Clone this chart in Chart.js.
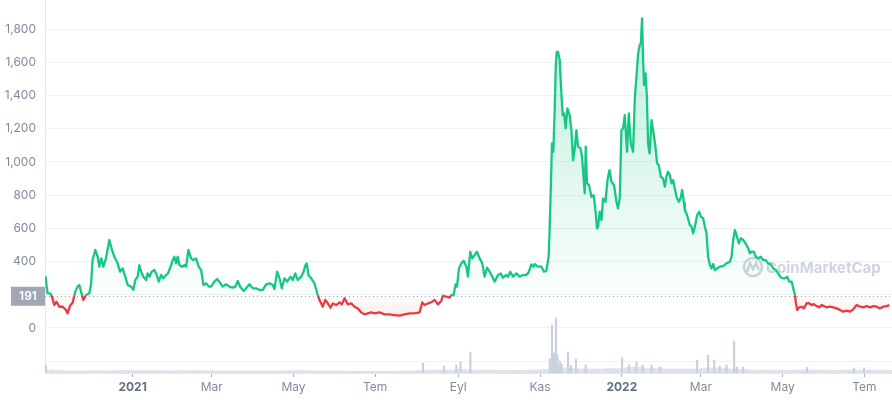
<!DOCTYPE html>
<html>
<head>
<meta charset="utf-8">
<script src="https://cdn.jsdelivr.net/npm/chart.js"></script>
<style>
html, body { margin: 0; padding: 0; background: #fff; }
#wrap { width: 892px; height: 400px; position: relative; }
</style>
</head>
<body>
<div id="wrap"><canvas id="priceChart"></canvas></div>
<script>
// x values are days counted from 1 Jan 2021
const tickDays = [0, 59, 120, 181, 243, 304, 365, 424, 485, 546];
const tickLabels = ['2021', 'Mar', 'May', 'Tem', 'Eyl', 'Kas', '2022', 'Mar', 'May', 'Tem'];
const yTicks = [-200, 0, 200, 400, 600, 800, 1000, 1200, 1400, 1600, 1800];
const baseline = 191;

const priceDays = [
  -65, -63.5, -61.5, -60.2, -58.5, -56.8, -54.7, -52.3, -49.7, -48.5, -46.7, -44.8, -42.8, -41.1, -39.8, -38.5,
  -36.8, -34.8, -32.3, -31.1, -29.9, -27.9, -26.1, -24.9, -23.4, -21.9, -19.9, -17.4, -15.4, -13.7, -11.2, -9.4,
  -7.5, -5.5, -3.7, -1.2, 0.5, 2, 3.7, 5, 6.3, 8, 10, 11.2, 12.5, 14.2, 16.2, 17.9, 19.4, 21.2, 22.9, 24.9, 26.4,
  28.7, 29.9, 31.1, 32.4, 33.6, 34.9, 36.9, 38.8, 39.9, 41.6, 43.6, 45.3, 47.3, 49.3, 51.1, 52.8, 54.8, 56.8,
  58.5, 61, 63, 64.7, 67.2, 69.7, 72.2, 74.7, 76.7, 78.4, 80.2, 82.9, 84.7, 87.2, 89.6, 92.2, 94.6, 97.1, 99.6,
  102.1, 104.6, 105.8, 107.8, 109.6, 111.3, 113.3, 115.3, 117.8, 119.5, 121.3, 123.2, 125.8, 127.5, 129, 129.9,
  131.2, 133.2, 135.7, 137.7, 139.4, 141.9, 143.7, 145.6, 147.6, 149.4, 151.9, 154.4, 156.1, 158.1, 160.6, 163.1,
  165.6, 168, 170.6, 173, 175.5, 178, 180.5, 184.2, 188, 191.7, 195.4, 199.2, 202.9, 206.7, 210.4, 214.1, 216.1,
  217.8, 220.3, 222.8, 225.3, 227.8, 230.3, 231.5, 234, 236.5, 237.8, 239.5, 241, 242, 243.5, 245.2, 247, 249,
  250.2, 251.9, 253.4, 255.2, 256.9, 258.9, 260.9, 262.6, 264.4, 266.4, 268.4, 270.1, 272.6, 274.6, 276.3, 278.8,
  280, 281.8, 283.8, 286.3, 288.8, 291.2, 293.8, 295.7, 297.5, 299.2, 300, 302.4, 305, 306.9, 308.7, 310.4, 311.2,
  311.9, 312.9, 313.9, 314.9, 315.7, 316.4, 317.4, 318.7, 319.9, 320.9, 321.9, 323.1, 324.4, 326.1, 327.4, 328.6,
  329.9, 331.1, 332.3, 334.1, 335.3, 336.8, 337.3, 338.1, 339, 340.5, 342.3, 344, 345.3, 346.5, 347.3, 348.5,
  349.8, 351, 352.8, 354.3, 355.8, 357.3, 359.2, 361, 362.2, 363.5, 364.7, 366, 367.2, 367.9, 368.9, 370.2, 371.7,
  373.4, 374.7, 375.9, 377.2, 378.4, 379.2, 380.1, 380.9, 381.6, 382.7, 383.7, 384.6, 385.7, 387.2, 388.3, 390.1,
  391.3, 392.6, 394.1, 395.8, 397.1, 398.3, 399.5, 400.8, 402.1, 403.3, 404.5, 405.8, 407.5, 408.8, 410, 411.5,
  412, 413.7, 415.7, 417, 418.2, 419.5, 421.2, 422.7, 424, 425.7, 427, 428.2, 429.4, 430.7, 431.9, 433.2, 434.4,
  436.2, 438.1, 440.6, 443.1, 445.6, 446.9, 448.1, 449.4, 450.6, 452.3, 453.8, 455.6, 457.3, 459.3, 460.6, 461.8,
  463.5, 465, 466.8, 468.6, 470.5, 472.5, 474.2, 476, 478, 480, 481.7, 483.5, 485, 486.7, 488.4, 489.9, 491.7,
  492.9, 494.2, 494.9, 495.9, 497.4, 499.2, 500.9, 502.9, 504.8, 506.6, 508.3, 510.3, 512.3, 514.1, 515.8, 517.8,
  520.3, 522.8, 525.3, 527.8, 530.2, 532.8, 535.2, 537.7, 540.2, 542.7, 545.2, 547.7, 550.2, 552.7, 555.2, 557.6,
  560.1, 562.6, 564.6
];
const prices = [
  310, 209, 209, 189, 138, 158, 128, 128, 108, 88, 134, 152, 219, 249, 259, 219,
  169, 199, 209, 259, 409, 470, 429, 369, 419, 369, 419, 530, 470, 429, 389, 339,
  359, 309, 259, 249, 229, 289, 309, 379, 339, 309, 289, 329, 309, 339, 349, 319, 279, 319, 299, 319, 329,
  379, 409, 429, 389, 429, 379, 369, 379, 369, 470, 419, 409, 419, 369, 349, 259, 269, 249,
  249, 279, 295, 279, 249, 263, 249, 243, 249, 283, 249, 223, 239, 263, 239, 239, 229, 229, 263,
  269, 259, 235, 339, 299, 239, 299, 279, 309, 289, 329, 289, 309, 339, 379, 389,
  319, 299, 269, 209, 169, 128, 169, 148, 122, 148, 138, 154, 142, 179, 142, 148,
  128, 118, 94, 82, 88, 94, 88, 94, 82, 82, 78, 74, 82, 88, 88, 94, 154,
  138, 148, 154, 169, 142, 163, 195, 189, 183, 199, 199, 263, 249, 359, 389, 405, 369,
  309, 459, 419, 439, 459, 419, 389, 309, 363, 339, 309, 279, 319, 329, 303, 319,
  309, 339, 309, 329, 309, 319, 319, 339, 383, 369, 385, 369, 369, 339, 345, 429, 610,
  811, 1112, 1061, 1312, 1573, 1663, 1663, 1613, 1413, 1282, 1292, 1202, 1322, 1282, 1192, 1011,
  1082, 1192, 1092, 1082, 1031, 871, 811, 1092, 871, 861, 790, 800, 710, 600, 610, 700,
  650, 781, 760, 891, 951, 881, 861, 760, 720, 790, 1192, 1202, 1282, 1192, 1061, 1292, 1112,
  1061, 1383, 1513, 1654, 1704, 1714, 1864, 1613, 1463, 1533, 1393, 1112, 1051, 1252, 1192, 1092,
  991, 981, 911, 901, 851, 911, 941, 921, 871, 891, 841, 790, 760, 780, 831, 750,
  710, 680, 620, 610, 570, 610, 680, 700, 670, 660, 610, 570, 429, 379, 359, 385, 349,
  359, 369, 373, 389, 399, 429, 530, 590, 560, 510, 540, 530, 510, 480, 450, 460,
  460, 429, 419, 429, 409, 409, 389, 385, 359, 349, 329, 305, 299, 299, 309, 279, 279,
  239, 199, 149, 108, 124, 128, 118, 149, 149, 138, 144, 132, 124, 138, 132, 124,
  128, 124, 118, 108, 98, 104, 98, 112, 138, 128, 124, 132, 124, 132, 128, 118,
  128, 132, 138
];

// weekly volume band (first week centred on day -63), then single-day spikes
const volStartDay = -63;
const volWeekly = [
  30, 25, 22, 22, 20, 25, 22, 24, 25,
  25, 24, 25, 24, 22, 24, 23, 25, 22,
  22, 20, 22, 20, 20, 22, 20, 22, 25,
  24, 22, 20, 20, 20, 18, 18, 18, 18,
  18, 18, 20, 22, 25, 30, 28, 30, 35,
  30, 28, 30, 28, 28, 26, 28, 30, 35,
  60, 50, 45, 40, 40, 40, 45, 45, 55,
  55, 45, 45, 40, 40, 40, 40, 45, 50,
  45, 40, 35, 30, 30, 30, 28, 28, 30,
  30, 28, 30, 28, 30, 30, 28, 30, 30, 28
];
const spikeDays = [-64.8, 216.6, 232.3, 241.5, 244.7, 252, 311.2, 312.9, 314.4, 315.9, 316.9, 318.7, 320, 324.9,
  327, 330.8, 338, 365.2, 370.4, 375.9, 380.6, 387.1, 393.3, 421.2, 429.4, 433.9, 438, 443.1, 448.8, 450.8, 455.3,
  503.3, 538.2, 545.7];
const spikeVolumes = [80, 100, 70, 80, 110, 210, 140, 480, 200, 550, 180, 120, 90, 210,
  80, 140, 80, 150, 80, 110, 80, 80, 60, 130, 180, 130, 70, 80, 320, 60, 60,
  60, 50, 50];

const green = '#16c784';
const red = '#ea3943';
const isYear = c => !!(c.tick && /^\d{4}$/.test(c.tick.label));

const shading = {
  id: 'shading',
  afterLayout(chart) {
    const { ctx, chartArea: a, scales: { y } } = chart;
    const yb = y.getPixelForValue(baseline);
    const f = (yb - a.top) / (a.bottom - a.top);
    const stroke = ctx.createLinearGradient(0, a.top, 0, a.bottom);
    stroke.addColorStop(0, green);
    stroke.addColorStop(f, green);
    stroke.addColorStop(f, red);
    stroke.addColorStop(1, red);
    const up = ctx.createLinearGradient(0, a.top, 0, yb);
    up.addColorStop(0, 'rgba(22,199,132,0.3)');
    up.addColorStop(1, 'rgba(22,199,132,0.02)');
    const down = ctx.createLinearGradient(0, yb, 0, a.bottom);
    down.addColorStop(0, 'rgba(234,57,67,0.02)');
    down.addColorStop(1, 'rgba(234,57,67,0.3)');
    const ds = chart.data.datasets[0];
    ds.borderColor = stroke;
    ds.fill = { target: { value: baseline }, above: up, below: down };
  },
  beforeDatasetsDraw(chart) {
    const { ctx, chartArea: a, scales: { y } } = chart;
    const yb = Math.round(y.getPixelForValue(baseline)) + 0.5;
    ctx.save();
    // watermark
    ctx.strokeStyle = 'rgba(190,198,214,0.75)';
    ctx.fillStyle = 'rgba(190,198,214,0.75)';
    ctx.lineWidth = 2.5;
    ctx.beginPath();
    ctx.arc(753, 267, 9, 0, Math.PI * 2);
    ctx.stroke();
    ctx.beginPath();
    ctx.moveTo(747, 272);
    ctx.lineTo(750, 263);
    ctx.lineTo(753, 269);
    ctx.lineTo(756, 263);
    ctx.lineTo(759, 270);
    ctx.stroke();
    ctx.font = 'bold 15px Inter';
    ctx.textBaseline = 'middle';
    ctx.fillText('CoinMarketCap', 766, 268);
    // dotted baseline
    ctx.strokeStyle = '#9aa1b1';
    ctx.lineWidth = 1;
    ctx.setLineDash([1, 3]);
    ctx.beginPath();
    ctx.moveTo(a.left, yb);
    ctx.lineTo(a.right, yb);
    ctx.stroke();
    ctx.restore();
  },
  afterDraw(chart) {
    const { ctx, chartArea: a, scales: { y } } = chart;
    const yb = y.getPixelForValue(baseline);
    ctx.save();
    ctx.fillStyle = '#a1a7b5';
    ctx.fillRect(11, yb - 9.5, a.left - 11, 19);
    ctx.fillStyle = '#fff';
    ctx.font = '600 12px Inter';
    ctx.textAlign = 'center';
    ctx.textBaseline = 'middle';
    ctx.fillText(String(baseline), (11 + a.left) / 2, yb + 0.5);
    ctx.restore();
  }
};

new Chart(document.getElementById('priceChart'), {
  data: {
    datasets: [
      {
        type: 'line',
        data: priceDays.map((d, i) => ({ x: d, y: prices[i] })),
        yAxisID: 'y',
        borderColor: green,
        borderWidth: 2.3,
        borderJoinStyle: 'round',
        pointRadius: 0,
        tension: 0,
        fill: { target: { value: baseline } },
        order: 0
      },
      {
        type: 'bar',
        data: volWeekly.map((v, i) => ({ x: volStartDay + i * 7, y: v })),
        yAxisID: 'yv',
        backgroundColor: 'rgba(207,214,228,0.7)',
        barThickness: 9.4,
        grouped: false,
        order: 2
      },
      {
        type: 'bar',
        data: spikeDays.map((d, i) => ({ x: d, y: spikeVolumes[i] })),
        yAxisID: 'yv',
        backgroundColor: '#c9d0de',
        barThickness: 1.5,
        grouped: false,
        order: 1
      }
    ]
  },
  options: {
    responsive: true,
    maintainAspectRatio: false,
    animation: false,
    layout: { padding: 0 },
    plugins: { legend: { display: false }, tooltip: { enabled: false } },
    scales: {
      x: {
        type: 'linear',
        offset: false,
        min: -65.4,
        max: 566.6,
        afterFit: s => { s.height = 27; s.paddingLeft = 0; s.paddingRight = 0; },
        afterBuildTicks: s => { s.ticks = tickDays.map(v => ({ value: v })); },
        grid: { drawOnChartArea: false, drawTicks: true, tickLength: 4, color: '#a6afc0', offset: false },
        border: { color: '#e3e6ec' },
        ticks: {
          padding: 3,
          autoSkip: false,
          maxRotation: 0,
          callback: (v, i) => tickLabels[i],
          color: c => isYear(c) ? '#616e85' : '#808a9d',
          font: c => ({ family: 'Inter', size: 12, weight: isYear(c) ? 'bold' : 'normal' })
        }
      },
      y: {
        min: -271,
        max: 1975,
        afterFit: s => { s.width = 45; s.paddingTop = 0; s.paddingBottom = 0; },
        afterBuildTicks: s => { s.ticks = yTicks.map(v => ({ value: v })); },
        grid: { color: '#eff2f5', drawTicks: false },
        border: { color: '#e3e6ec' },
        ticks: {
          padding: 9,
          callback: v => v < 0 ? '' : v.toLocaleString('en-US'),
          color: '#808a9d',
          font: { family: 'Inter', size: 12 }
        }
      },
      yv: { display: false, min: 0, max: 3730 }
    }
  },
  plugins: [shading]
});
</script>
</body>
</html>
